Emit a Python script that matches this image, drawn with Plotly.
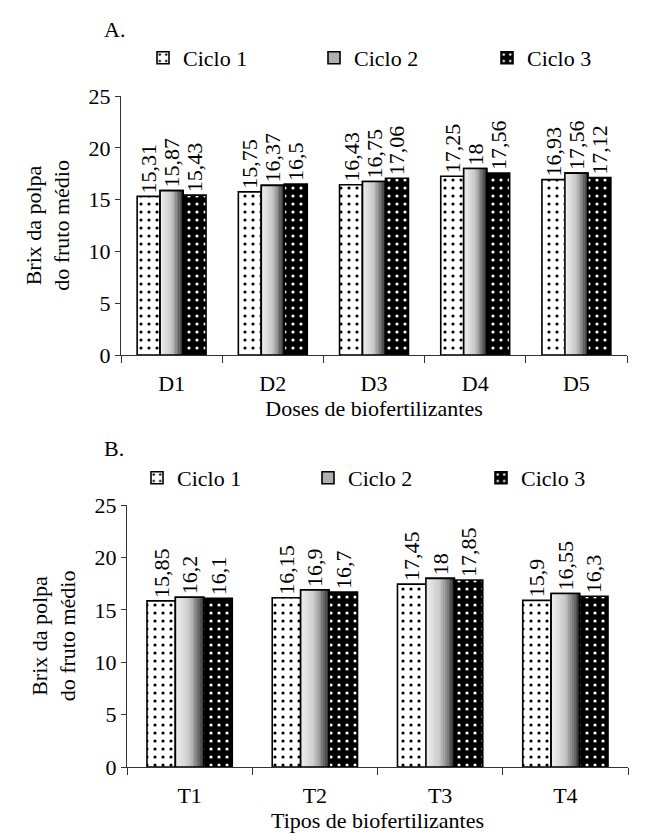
import plotly.graph_objects as go

# ---------------- data ----------------
doses = ["D1", "D2", "D3", "D4", "D5"]
dose_c1 = [15.31, 15.75, 16.43, 17.25, 16.93]
dose_c2 = [15.87, 16.37, 16.75, 18.00, 17.56]
dose_c3 = [15.43, 16.50, 17.06, 17.56, 17.12]
dose_lab1 = ["15,31", "15,75", "16,43", "17,25", "16,93"]
dose_lab2 = ["15,87", "16,37", "16,75", "18", "17,56"]
dose_lab3 = ["15,43", "16,5", "17,06", "17,56", "17,12"]

tipos = ["T1", "T2", "T3", "T4"]
tipo_c1 = [15.85, 16.15, 17.45, 15.90]
tipo_c2 = [16.20, 16.90, 18.00, 16.55]
tipo_c3 = [16.10, 16.70, 17.85, 16.30]
tipo_lab1 = ["15,85", "16,15", "17,45", "15,9"]
tipo_lab2 = ["16,2", "16,9", "18", "16,55"]
tipo_lab3 = ["16,1", "16,7", "17,85", "16,3"]

series_names = ["Ciclo 1", "Ciclo 2", "Ciclo 3"]
y_ticks = [0, 5, 10, 15, 20, 25]

FONT = "Liberation Serif"
FS = 22
W = 0.227          # width of one bar (category units)
NSTRIP = 16        # strips used to imitate the gradient of Ciclo 2

def grad_color(t):
    # light on the left, dark on the right
    if t < 0.45:
        v = 242 - 37 * (t / 0.45)
    else:
        v = 205 - 160 * ((t - 0.45) / 0.55) ** 1.3
    v = int(round(v))
    return f"rgb({v},{v},{v})"

fig = go.Figure()

def add_panel(cats, v1, v2, v3, l1, l2, l3, xa, ya, legs):
    txtfont = dict(family=FONT, size=FS, color="black")
    common = dict(xaxis=xa, yaxis=ya, cliponaxis=False, constraintext="none",
                  textangle=-90, textposition="outside", textfont=txtfont)
    # Ciclo 1: white with black dots
    fig.add_trace(go.Bar(
        x=cats, y=v1, name=series_names[0], text=l1, legend=legs[0],
        offset=-1.5 * W, width=W,
        marker=dict(color="white", line=dict(color="black", width=1.6),
                    pattern=dict(shape=".", fgcolor="black", bgcolor="white",
                                 fillmode="replace", size=8, solidity=0.12)),
        **common))
    # Ciclo 2: legend / base bar under the gradient strips
    fig.add_trace(go.Bar(
        x=cats, y=v2, name=series_names[1], legend=legs[1],
        offset=-0.5 * W, width=W, xaxis=xa, yaxis=ya,
        marker=dict(color="#b0b0b0", line=dict(color="black", width=1.6)),
        hoverinfo="skip"))
    sw = W / NSTRIP
    for k in range(NSTRIP):
        fig.add_trace(go.Bar(
            x=cats, y=v2, showlegend=False, legend=legs[1],
            offset=-0.5 * W + k * sw, width=sw * 1.08, xaxis=xa, yaxis=ya,
            marker=dict(color=grad_color((k + 0.5) / NSTRIP), line=dict(width=0)),
            hoverinfo="skip"))
    # Ciclo 2: outline + labels on top
    fig.add_trace(go.Bar(
        x=cats, y=v2, text=l2, showlegend=False, legend=legs[1],
        offset=-0.5 * W, width=W,
        marker=dict(color="rgba(0,0,0,0)", line=dict(color="black", width=1.6)),
        **common))
    # Ciclo 3: black with white dots
    fig.add_trace(go.Bar(
        x=cats, y=v3, name=series_names[2], text=l3, legend=legs[2],
        offset=0.5 * W, width=W,
        marker=dict(color="black", line=dict(color="black", width=1.6),
                    pattern=dict(shape=".", fgcolor="white", bgcolor="black",
                                 fillmode="replace", size=8, solidity=0.12)),
        **common))

add_panel(doses, dose_c1, dose_c2, dose_c3, dose_lab1, dose_lab2, dose_lab3,
          "x", "y", ["legend", "legend2", "legend3"])
add_panel(tipos, tipo_c1, tipo_c2, tipo_c3, tipo_lab1, tipo_lab2, tipo_lab3,
          "x2", "y2", ["legend4", "legend5", "legend6"])

H, Wd = 837, 649
def px_x(p):
    return p / Wd
def px_y(p):
    return 1 - p / H

axis_font = dict(family=FONT, size=FS, color="black")
xcommon = dict(showline=True, linecolor="#333333", linewidth=1.2, ticks="outside",
               tickson="boundaries", ticklen=7, tickcolor="#333333",
               tickfont=axis_font, showgrid=False, zeroline=False,
               title_font=axis_font, fixedrange=True, ticklabelstandoff=8)
ycommon = dict(showline=True, linecolor="#333333", linewidth=1.2, ticks="outside",
               ticklen=5, tickcolor="#333333", tickfont=axis_font,
               tickvals=y_ticks, range=[0, 25], showgrid=False, zeroline=False,
               title_font=axis_font, title_standoff=12, fixedrange=True)

legcommon = dict(orientation="h", font=dict(family=FONT, size=FS, color="black"),
                 bgcolor="rgba(0,0,0,0)", xanchor="left", yanchor="middle",
                 itemclick=False, itemdoubleclick=False, borderwidth=0)

legA_x = [151, 322, 495]
legB_x = [145, 316, 489]
legA_y, legB_y = 50, 470

legends = {}
for i, bx in enumerate(legA_x):
    key = "legend" if i == 0 else f"legend{i + 1}"
    legends[key] = dict(x=px_x(bx - 16), y=px_y(legA_y), **legcommon)
for i, bx in enumerate(legB_x):
    legends[f"legend{i + 4}"] = dict(x=px_x(bx - 16), y=px_y(legB_y), **legcommon)

fig.update_layout(
    width=Wd, height=H,
    margin=dict(l=0, r=0, t=0, b=0, autoexpand=False),
    paper_bgcolor="white", plot_bgcolor="white",
    barmode="overlay",
    font=dict(family=FONT, size=FS, color="black"),
    xaxis=dict(domain=[px_x(113), px_x(619)], anchor="y",
               title=dict(text="Doses de biofertilizantes", standoff=6),
               **xcommon),
    yaxis=dict(domain=[px_y(347), px_y(88)], anchor="x",
               title=dict(text="Brix da polpa<br>do fruto médio"), **ycommon),
    xaxis2=dict(domain=[px_x(119), px_x(620)], anchor="y2",
                title=dict(text="Tipos de biofertilizantes", standoff=6),
                **xcommon),
    yaxis2=dict(domain=[px_y(759), px_y(497)], anchor="x2",
                title=dict(text="Brix da polpa<br>do fruto médio"), **ycommon),
    showlegend=True,
    annotations=[
        dict(text="A.", x=px_x(94), y=px_y(21), xref="paper", yref="paper",
             xanchor="left", yanchor="middle", showarrow=False,
             font=dict(family=FONT, size=FS, color="black")),
        dict(text="B.", x=px_x(94), y=px_y(440), xref="paper", yref="paper",
             xanchor="left", yanchor="middle", showarrow=False,
             font=dict(family=FONT, size=FS, color="black")),
    ],
    **legends,
)

fig.write_html("out.html")
